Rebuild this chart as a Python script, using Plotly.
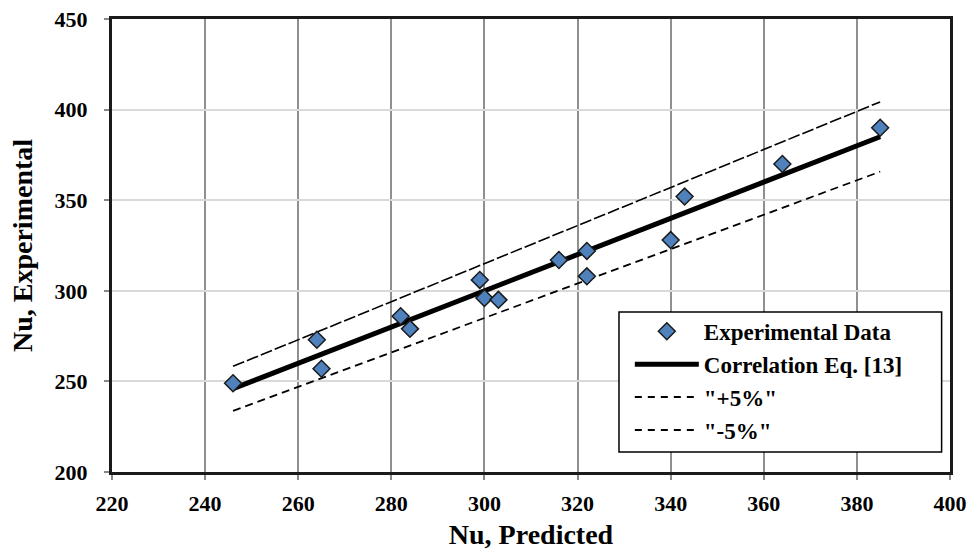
import plotly.graph_objects as go

nu_pred = [246, 264, 265, 282, 284, 299, 300, 303, 316, 322, 322, 340, 343, 364, 385]
nu_exp = [249, 273, 257, 286, 279, 306, 296, 295, 317, 322, 308, 328, 352, 370, 390]

line_x = [246, 385]
corr_y = [246, 385]
plus5_y = [258.3, 404.25]
minus5_y = [233.7, 365.75]

font_family = "Liberation Serif, Times New Roman, serif"

fig = go.Figure()
fig.add_trace(go.Scatter(
    x=line_x, y=plus5_y, mode="lines", name='"+5%"',
    line=dict(color="black", width=1.6, dash="12px,3px"), showlegend=False))
fig.add_trace(go.Scatter(
    x=line_x, y=minus5_y, mode="lines", name='"-5%"',
    line=dict(color="black", width=1.8, dash="8px,5px"), showlegend=False))
fig.add_trace(go.Scatter(
    x=line_x, y=corr_y, mode="lines", name="Correlation Eq. [13]",
    line=dict(color="black", width=5), showlegend=False))
fig.add_trace(go.Scatter(
    x=nu_pred, y=nu_exp, mode="markers", name="Experimental Data",
    marker=dict(symbol="diamond", size=13, color="#4f81bd",
                line=dict(color="#1a1a1a", width=1.5))))
# legend entries in reference order
fig.add_trace(go.Scatter(x=[None], y=[None], mode="lines", name="Correlation Eq. [13]",
                         line=dict(color="black", width=5)))
fig.add_trace(go.Scatter(x=[None], y=[None], mode="lines", name='"+5%"',
                         line=dict(color="black", width=2, dash="7px,6px")))
fig.add_trace(go.Scatter(x=[None], y=[None], mode="lines", name='"-5%"',
                         line=dict(color="black", width=2, dash="7px,6px")))

# legend box drawn as a shape (white, black border) so its size matches
fig.add_shape(type="rect", xref="paper", yref="paper",
              x0=0.605, x1=0.990, y0=0.044, y1=0.353,
              fillcolor="white", line=dict(color="black", width=1.5), layer="above")

fig.update_layout(
    width=979, height=550,
    margin=dict(l=112, r=29, t=19, b=78),
    plot_bgcolor="white", paper_bgcolor="white",
    font=dict(family=font_family, color="black", size=16, weight="bold"),
    legend=dict(x=0.606, y=0.358, xanchor="left", yanchor="top",
                bgcolor="rgba(0,0,0,0)", borderwidth=0,
                font=dict(size=23, family=font_family, weight="bold"),
                tracegroupgap=0, itemwidth=64, indentation=10),
)
fig.update_xaxes(
    range=[220, 400], dtick=20, tick0=220, automargin=False,
    showgrid=True, gridcolor="#8f8f8f", gridwidth=1.5,
    showline=True, linecolor="#1a1a1a", linewidth=3, mirror=True,
    ticks="outside", ticklen=5, tickcolor="#888", tickwidth=1.5,
    ticklabelstandoff=5,
    tickfont=dict(size=22, family=font_family, weight="bold"),
    title=dict(text="Nu, Predicted", font=dict(size=28, family=font_family, weight="bold"), standoff=11),
    zeroline=False,
)
fig.update_yaxes(
    range=[200, 450], dtick=50, automargin=False,
    showgrid=True, gridcolor="#d9d9d9", gridwidth=1.5,
    showline=True, linecolor="#1a1a1a", linewidth=3, mirror=True,
    ticks="outside", ticklen=5, tickcolor="#888", tickwidth=1.5,
    ticklabelstandoff=12,
    tickfont=dict(size=22, family=font_family, weight="bold"),
    title=dict(text="Nu, Experimental", font=dict(size=28, family=font_family, weight="bold"), standoff=14),
    zeroline=False,
)
fig.write_html("out.html")
